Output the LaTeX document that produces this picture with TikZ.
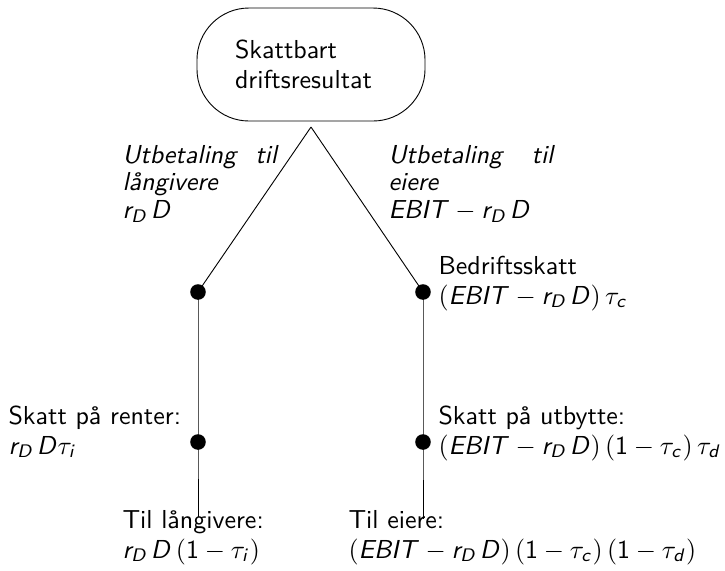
\documentclass[tikz,border=0pt]{standalone}
\DeclareSymbolFont{sfit}{OT1}{cmss}{m}{sl}
\DeclareSymbolFont{sfup}{OT1}{cmss}{m}{n}
\DeclareMathSymbol{E}{\mathalpha}{sfit}{`E}
\DeclareMathSymbol{B}{\mathalpha}{sfit}{`B}
\DeclareMathSymbol{I}{\mathalpha}{sfit}{`I}
\DeclareMathSymbol{T}{\mathalpha}{sfit}{`T}
\DeclareMathSymbol{D}{\mathalpha}{sfit}{`D}
\DeclareMathSymbol{r}{\mathalpha}{sfit}{`r}
\DeclareMathSymbol{c}{\mathalpha}{sfit}{`c}
\DeclareMathSymbol{d}{\mathalpha}{sfit}{`d}
\DeclareMathSymbol{i}{\mathalpha}{sfit}{`i}
\DeclareMathSymbol{1}{\mathalpha}{sfup}{`1}
\newcommand{\rD}{r_D\mkern2mu D}
\tikzset{
  txt/.style={anchor=base west, inner sep=0pt, align=left,
    font=\sffamily\fontsize{10}{11.2}\selectfont},
  lbl/.style={anchor=base west, inner sep=0pt, align=left,
    font=\sffamily\itshape\fontsize{10}{10.7}\selectfont},
  dotnode/.style={circle, fill=black, inner sep=0pt, minimum size=6pt},
  stadium/.style={draw, line width=0.35pt, rounded corners=20pt, minimum width=87.8pt,
    minimum height=43.5pt, inner sep=0pt, text width=58.5pt, align=left,
    font=\sffamily\fontsize{10}{11.5}\selectfont},
  link/.style={draw, line width=0.35pt}
}
\begin{document}
\begin{tikzpicture}[x=0.385pt, y=-0.385pt]
\useasboundingbox (0,0) rectangle (725,570);
\node[stadium] (src) at (311,64.5) {Skattbart\\driftsresultat};
\coordinate (apex) at (311,127);
\node[dotnode] (l1) at (198,292) {};
\node[dotnode] (l2) at (198,442) {};
\node[dotnode] (r1) at (423,292) {};
\node[dotnode] (r2) at (423,442) {};
\coordinate (lend) at (198,517);
\coordinate (rend) at (423,519);
\path[link] (apex) -- (l1.center);
\path[link] (apex) -- (r1.center);
\path[link] (l1.center) -- (l2.center) -- (lend);
\path[link] (r1.center) -- (r2.center) -- (rend);
\node[lbl, text width=59.5pt] (ul) at (122,163) {Utbetaling\hfill til\\långivere\\$\rD$};
\node[lbl, text width=63.5pt] (ur) at (388,163) {Utbetaling\hfill til\\eiere\\$EBIT - \rD$};
\node[txt] (bs) at (438,304) {Bedriftsskatt\\$(EBIT - \rD)\,\tau_c$};
\node[txt] (sr) at (8,454) {Skatt på renter:\\$\rD\tau_i$};
\node[txt] (su) at (438,454) {Skatt på utbytte:\\$(EBIT - \rD)\,(1-\tau_c)\,\tau_d$};
\node[txt] (tl) at (122,558) {Til långivere:\\$\rD\,(1-\tau_i)$};
\node[txt] (te) at (348,558) {Til eiere:\\$(EBIT - \rD)\,(1-\tau_c)\,(1-\tau_d)$};
\end{tikzpicture}
\end{document}
